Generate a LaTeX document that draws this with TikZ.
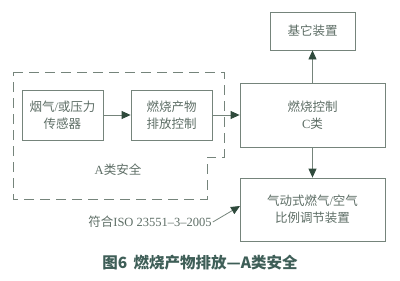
\documentclass[tikz,border=0pt]{standalone}
\usepackage{fontspec}
\setmainfont{Liberation Serif}
\newfontfamily\cjk{Noto Sans CJK SC}
\usetikzlibrary{arrows.meta}
\definecolor{lc}{HTML}{75847B}
\definecolor{tc}{HTML}{5E6E66}
\definecolor{ac}{HTML}{2F4A3C}
\definecolor{cc}{HTML}{3E5E57}
\tikzset{
  box/.style={draw=lc, line width=0.8pt, align=center, text=tc, font=\fontsize{12.5}{17}\selectfont},
  conn/.style={draw=lc, line width=0.8pt, -{Triangle[length=9pt,width=8pt,color=ac]}},
}
\begin{document}
\begin{tikzpicture}[x=1pt,y=-1pt]
\useasboundingbox (0,0) rectangle (400,281);
\node[box, minimum width=85pt, minimum height=38pt] (other) at (312.5,31) {\cjk 基它装置};
\node[box, minimum width=81pt, minimum height=50pt] (sensor) at (62.5,115) {{\cjk 烟气}/{\cjk 或压力}\\{\cjk 传感器}};
\node[box, minimum width=81pt, minimum height=50pt] (emis) at (171.5,115) {{\cjk 燃烧产物}\\{\cjk 排放控制}};
\node[box, minimum width=145pt, minimum height=64pt] (ctrl) at (312.5,115) {{\cjk 燃烧控制}\\C{\cjk 类}};
\node[box, minimum width=145pt, minimum height=63pt] (pneu) at (312.5,209.5) {{\cjk 气动式燃气}/{\cjk 空气}\\{\cjk 比例调节装置}};
\draw[draw=lc, line width=0.8pt, dash pattern=on 10pt off 6pt] (13,72) -- (224,72) -- (224,157) -- (207,157) -- (207,199) -- (13,199) -- cycle;
\node[text=tc, font=\fontsize{12.5}{14}\selectfont] (alab) at (118,170) {A{\cjk 类安全}};
\node[text=tc, font=\fontsize{12.5}{14}\selectfont, inner sep=1pt] (iso) at (150,222) {{\cjk 符合}ISO 23551--3--2005};
\coordinate (isoend) at (240,206);
\draw[conn] (sensor) -- (emis);
\draw[conn] (emis) -- (ctrl);
\draw[conn] (ctrl) -- (other);
\draw[conn] (ctrl) -- (pneu);
\draw[conn] (iso.east) -- (isoend);
\node[text=cc, font=\fontsize{15.5}{17}\selectfont\bfseries] (cap) at (200,263) {{\cjk 图6\hspace{0.4em}燃烧产物排放—A类安全}};
\end{tikzpicture}
\end{document}
